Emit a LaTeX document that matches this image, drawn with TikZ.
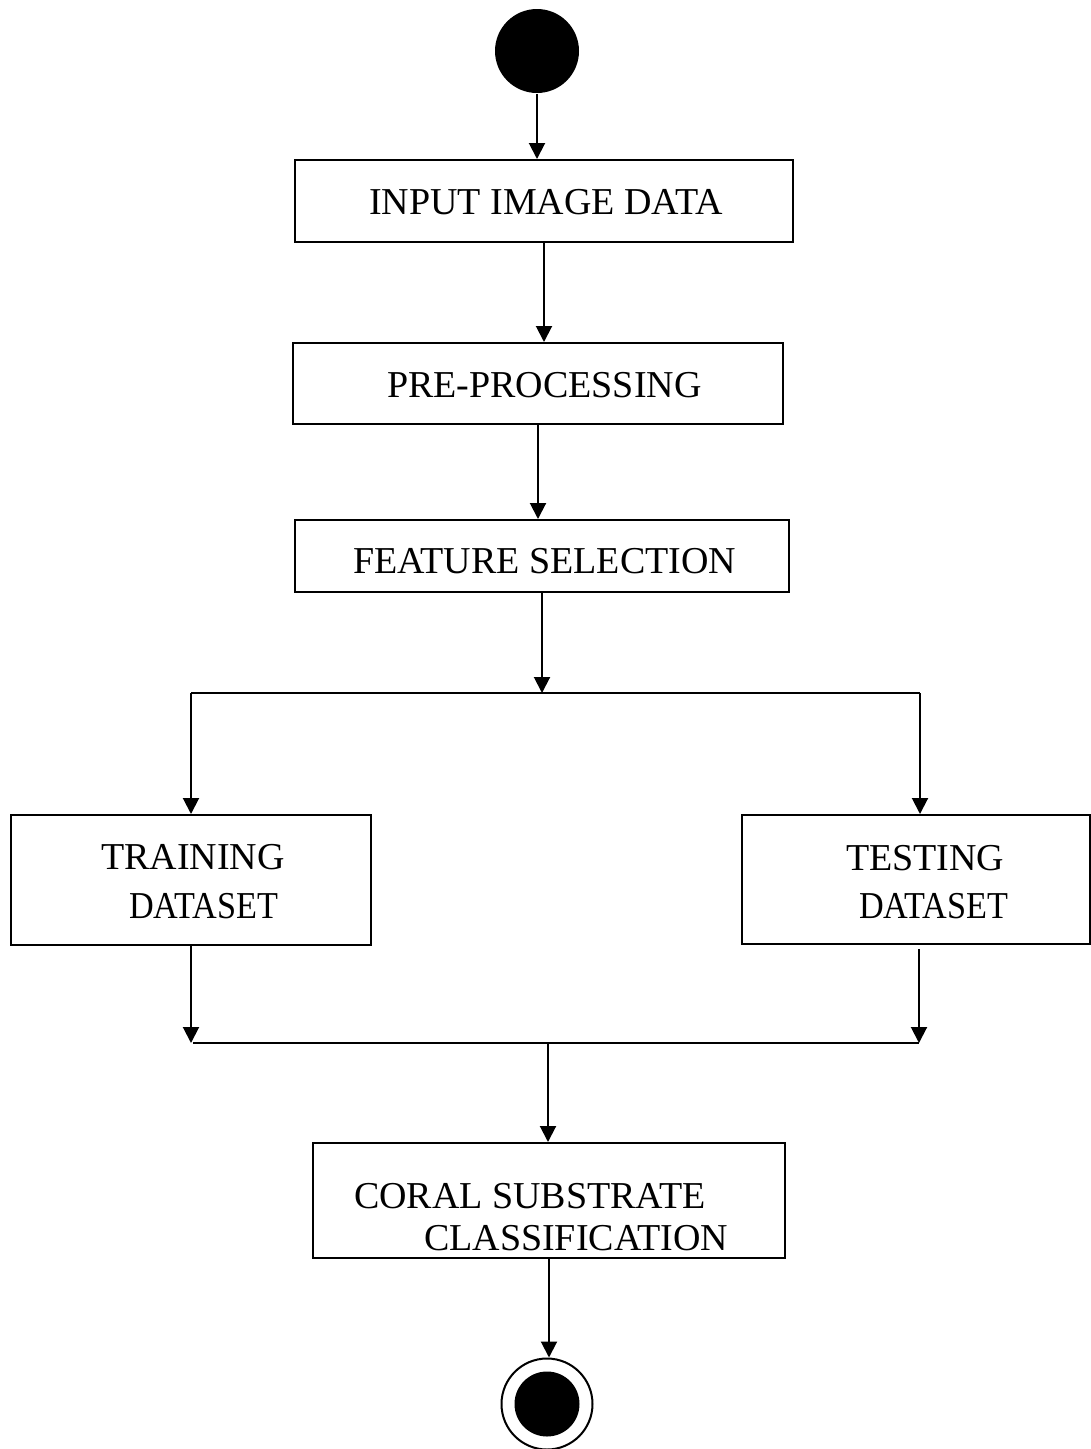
\documentclass[tikz,border=0pt]{standalone}
\usepackage{fontspec}
\setmainfont{Liberation Serif}
\usetikzlibrary{arrows.meta}
\begin{document}
\begin{tikzpicture}[x=1pt,y=-1pt,
  line width=2pt,
  flow/.style={-{Triangle[width=16pt,length=16pt]}},
  stepbox/.style={draw, rectangle, inner sep=0pt},
  lbl/.style={anchor=base west, inner sep=0pt, font=\fontsize{38}{49}\selectfont},
]
\useasboundingbox (0,0) rectangle (1091,1449);

% initial and final states
\node[circle, fill, minimum size=84pt, inner sep=0pt] (start) at (537,51) {};
\node[circle, draw, minimum size=91pt, inner sep=0pt] (stop) at (547,1404) {};
\fill (stop.center) circle (32.5pt);

% activity boxes
\node[stepbox, minimum width=498pt, minimum height=82pt]  (input)   at (544,201)    {};
\node[stepbox, minimum width=490pt, minimum height=81pt]  (prep)    at (538,383.5)  {};
\node[stepbox, minimum width=494pt, minimum height=72pt]  (feat)    at (542,556)    {};
\node[stepbox, minimum width=360pt, minimum height=130pt] (train)   at (191,880)    {};
\node[stepbox, minimum width=348pt, minimum height=129pt] (test)    at (915.5,879.5){};
\node[stepbox, minimum width=472pt, minimum height=115pt] (classify) at (549,1200.5) {};

% box labels
\node[lbl] (tinput) at (368,214)  {INPUT IMAGE DATA};
\node[lbl] (tprep)  at (386,397)  {PRE-PROCESSING};
\node[lbl] (tfeat)  at (352,573)  {FEATURE SELECTION};
\node[lbl] (ttrainA) at (100,869) {TRAINING};
\node[lbl] (ttrainB) at (128,918) {\scalebox{0.9}[1]{DATASET}};
\node[lbl] (ttestA)  at (845,870) {TESTING};
\node[lbl] (ttestB)  at (858,918) {\scalebox{0.9}[1]{DATASET}};
\node[lbl] (tclassA) at (353,1208) {CORAL SUBSTRATE};
\node[lbl] (tclassB) at (423,1250) {CLASSIFICATION};

% fork and join points
\coordinate (split)  at (542,693);
\coordinate (splitL) at (191,693);
\coordinate (splitR) at (920,693);
\coordinate (joinL)  at (191,1043);
\coordinate (joinR)  at (919,1043);
\coordinate (joinM)  at (548,1043);

% connectors
\draw[flow] (start.south) -- (start.south |- input.north);
\draw[flow] (input.south) -- (input.south |- prep.north);
\draw[flow] (prep.south) -- (prep.south |- feat.north);
\draw[flow] (feat.south) -- (split);
\draw (splitL) -- (splitR);
\draw[flow] (splitL) -- (splitL |- train.north);
\draw[flow] (splitR) -- (splitR |- test.north);
\draw[flow] (train.south) -- (joinL);
\draw[flow, shorten <=4pt] (joinR |- test.south) -- (joinR);
\draw ([xshift=2pt]joinL) -- (joinR);
\draw[flow] (joinM) -- (joinM |- classify.north);
\draw[flow] (classify.south) -- (classify.south |- stop.north);
\end{tikzpicture}
\end{document}
